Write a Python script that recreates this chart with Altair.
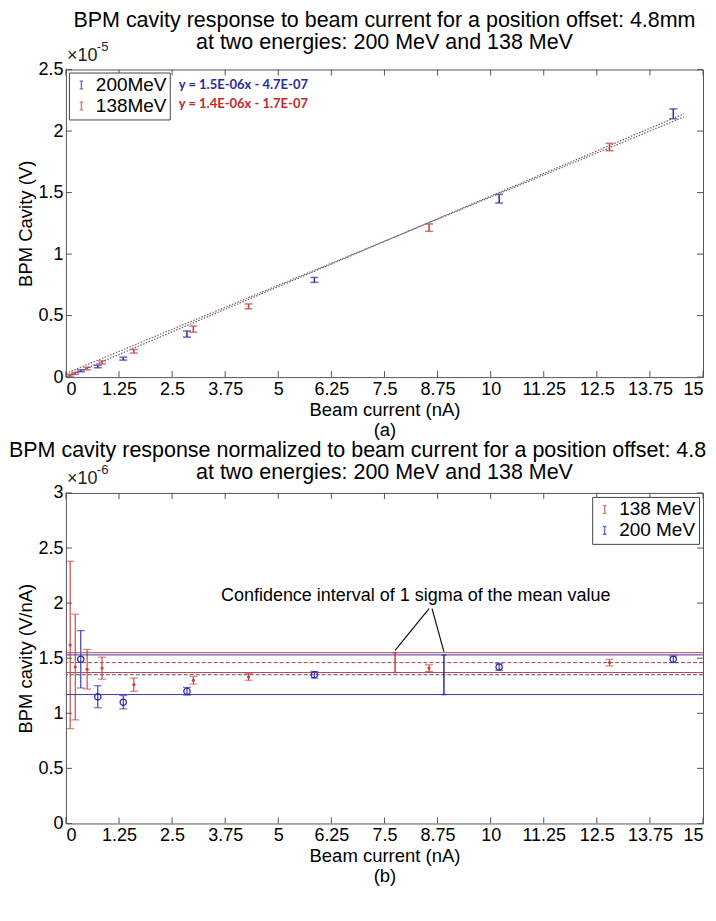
import altair as alt
import pandas as pd

FONT = "Liberation Sans"
BLUE = "#2b2ba8"
RED = "#cc3b3b"
W = 638
HA = 308
HB = 331
TFS = 21.5

# ---------------- panel (a): signal, units of 1e-5 V ----------------
a200_x = [0.35, 0.75, 1.35, 2.85, 5.85, 10.2, 14.3]
a200_y = [0.052, 0.086, 0.15, 0.35, 0.79, 1.45, 2.14]
a200_e = [0.008, 0.01, 0.012, 0.025, 0.02, 0.035, 0.04]
a138_x = [0.1, 0.22, 0.5, 0.85, 1.6, 3.0, 4.3, 8.55, 12.8]
a138_y = [0.016, 0.031, 0.07, 0.12, 0.21, 0.39, 0.575, 1.215, 1.87]
a138_e = [0.008, 0.008, 0.01, 0.012, 0.015, 0.025, 0.02, 0.03, 0.03]
fit_x = [0.0, 14.55]
fit200_y = [0.0, 2.14]
fit138_y = [0.03, 2.115]
eq_200 = "y = 1.5E-06x - 4.7E-07"
eq_138 = "y = 1.4E-06x - 1.7E-07"
title_a = ["BPM cavity response to beam current for a position offset: 4.8mm",
           "at two energies: 200 MeV and 138 MeV"]
xa_ticks = [0, 1.25, 2.5, 3.75, 5, 6.25, 7.5, 8.75, 10, 11.25, 12.5, 13.75, 15]
ya_ticks = [0, 0.5, 1, 1.5, 2, 2.5]

# ---------------- panel (b): normalized, units of 1e-6 V/nA ----------------
b138_x = [0.1, 0.22, 0.5, 0.85, 1.6, 3.0, 4.3, 8.55, 12.8]
b138_y = [1.62, 1.42, 1.4, 1.41, 1.26, 1.3, 1.33, 1.41, 1.46]
b138_e = [0.76, 0.48, 0.18, 0.1, 0.06, 0.035, 0.03, 0.03, 0.03]
b200_x = [0.35, 0.75, 1.35, 2.85, 5.85, 10.2, 14.3]
b200_y = [1.49, 1.15, 1.1, 1.2, 1.35, 1.42, 1.49]
b200_e = [0.26, 0.1, 0.06, 0.035, 0.03, 0.03, 0.03]
band138 = [1.37, 1.46, 1.55]   # lower, mean, upper
band200 = [1.17, 1.35, 1.53]
ci138_x = 7.75
ci200_x = 8.9
anno_text = "Confidence interval of 1 sigma of the mean value"
anno_x, anno_y = 3.65, 2.06
arrow_x = [8.55, 8.62]
arrow_y = [1.95, 1.95]
arrow_x2 = [ci138_x, ci200_x]
arrow_y2 = [1.57, 1.56]
title_b = ["BPM cavity response normalized to beam current for a position offset: 4.8 mm",
           "at two energies: 200 MeV and 138 MeV"]
yb_ticks = [0, 0.5, 1, 1.5, 2, 2.5, 3]

ebar_path = "M0,-1L0,1M-0.45,-1L0.45,-1M-0.45,1L0.45,1"
LBL = "format(datum.value, '~g')"


def series_df(xs, ys, es, name):
    return pd.DataFrame({"x": xs, "y": ys,
                         "lo": [y - e for y, e in zip(ys, es)],
                         "hi": [y + e for y, e in zip(ys, es)],
                         "series": [name] * len(xs)})


def frame_ticks(xvals, yvals, h):
    tx = pd.DataFrame({"tx": xvals})
    ty = pd.DataFrame({"ty": yvals})
    c = "#555555"
    return [
        alt.Chart(tx).mark_rule(color=c).encode(x="tx:Q", y=alt.value(h), y2=alt.value(h - 6)),
        alt.Chart(tx).mark_rule(color=c).encode(x="tx:Q", y=alt.value(0), y2=alt.value(6)),
        alt.Chart(ty).mark_rule(color=c).encode(y="ty:Q", x=alt.value(0), x2=alt.value(6)),
        alt.Chart(ty).mark_rule(color=c).encode(y="ty:Q", x=alt.value(W), x2=alt.value(W - 6)),
    ]


def errbars(df, color, x_enc, y_enc, cap, width):
    rule = alt.Chart(df).mark_rule(strokeWidth=width).encode(
        x=x_enc, y=y_enc, y2="hi:Q", color=color)
    lo = alt.Chart(df).mark_tick(orient="horizontal", size=cap, thickness=width).encode(
        x="x:Q", y="lo:Q", color=color)
    hi = alt.Chart(df).mark_tick(orient="horizontal", size=cap, thickness=width).encode(
        x="x:Q", y="hi:Q", color=color)
    return [rule, lo, hi]


def legend(orient, offset):
    return alt.Legend(title=None, orient=orient, offset=offset, symbolType=ebar_path,
                      symbolSize=60, symbolStrokeWidth=1.3, labelFont=FONT,
                      labelFontSize=19, labelColor="black", strokeColor="#444",
                      fillColor="white", padding=3, rowPadding=1, labelOffset=5,
                      cornerRadius=0)


def text_mark(t, x, y, size, align="left", baseline="middle", **kw):
    return alt.Chart(pd.DataFrame({"t": [t]})).mark_text(
        font=kw.pop("font", FONT), fontSize=size, align=align, baseline=baseline,
        color=kw.pop("color", "black"), **kw
    ).encode(text="t:N", x=alt.value(x), y=alt.value(y))


def axis(values, title):
    return alt.Axis(values=values, labelExpr=LBL, title=title, ticks=False,
                    domain=False, grid=False, labelFont=FONT, labelFontSize=18,
                    labelColor="black", labelPadding=3, titleFont=FONT,
                    titleFontSize=18.5, titleFontWeight="normal", titleColor="black",
                    titleLineHeight=20, titlePadding=2, labelOverlap=False)


# ---------------- build panel (a) ----------------
dfa = pd.concat([series_df(a200_x, a200_y, a200_e, "200MeV"),
                 series_df(a138_x, a138_y, a138_e, "138MeV")])
col_a = alt.Color("series:N", scale=alt.Scale(domain=["200MeV", "138MeV"], range=[BLUE, RED]),
                  legend=legend("top-left", 3))
xa_enc = alt.X("x:Q", scale=alt.Scale(domain=[0, 15], nice=False),
               axis=axis(xa_ticks, ["Beam current (nA)", "(a)"]))
ya_enc = alt.Y("lo:Q", scale=alt.Scale(domain=[0, 2.5], nice=False),
               axis=axis(ya_ticks, "BPM Cavity (V)"))

fit_df = pd.DataFrame({"fx": fit_x, "f200": fit200_y, "f138": fit138_y})
fit1 = alt.Chart(fit_df).mark_line(color="#5a5a8c", strokeDash=[1.5, 1.5], strokeWidth=1.2).encode(
    x="fx:Q", y="f200:Q")
fit2 = alt.Chart(fit_df).mark_line(color="#8c5a5a", strokeDash=[1.5, 1.5], strokeWidth=1.2).encode(
    x="fx:Q", y="f138:Q")

eq1 = text_mark(eq_200, 113, 15, 13, font="Lato", fontWeight="bold", color="#2a2aa0")
eq2 = text_mark(eq_138, 113, 35, 13, font="Lato", fontWeight="bold", color="#c02a2a")
mul_a = text_mark("\u00d710", 1, -5, 18, baseline="bottom", color="#222")
exp_a = text_mark("-5", 31, -16, 13, baseline="bottom", color="#222")
tA1 = text_mark(title_a[0], W / 2, -49, TFS, align="center")
tA2 = text_mark(title_a[1], W / 2, -27, TFS, align="center")

panel_a = alt.layer(
    *errbars(dfa, col_a, xa_enc, ya_enc, 8, 1.5),
    fit1, fit2, eq1, eq2, mul_a, exp_a, tA1, tA2,
    *frame_ticks(xa_ticks, ya_ticks, HA),
).properties(width=W, height=HA)

# ---------------- build panel (b) ----------------
dfb = pd.concat([series_df(b138_x, b138_y, b138_e, "138 MeV"),
                 series_df(b200_x, b200_y, b200_e, "200 MeV")])
col_b = alt.Color("series:N", scale=alt.Scale(domain=["138 MeV", "200 MeV"], range=[RED, BLUE]),
                  legend=legend("top-right", 4))
xb_enc = alt.X("x:Q", scale=alt.Scale(domain=[0, 15], nice=False),
               axis=axis(xa_ticks, ["Beam current (nA)", "(b)"]))
yb_enc = alt.Y("lo:Q", scale=alt.Scale(domain=[0, 3], nice=False),
               axis=axis(yb_ticks, "BPM cavity  (V/nA)"))

lv138 = pd.DataFrame({"lv": band138})
lv200 = pd.DataFrame({"lv": band200})
band_lines = [
    alt.Chart(lv138.iloc[[0, 2]]).mark_rule(color="#c04848", strokeWidth=1).encode(y="lv:Q"),
    alt.Chart(lv138.iloc[[1]]).mark_rule(color="#a04848", strokeWidth=1, strokeDash=[4, 2]).encode(y="lv:Q"),
    alt.Chart(lv200.iloc[[0, 2]]).mark_rule(color="#3a3aa8", strokeWidth=1).encode(y="lv:Q"),
    alt.Chart(lv200.iloc[[1]]).mark_rule(color="#4a4a98", strokeWidth=1, strokeDash=[4, 2]).encode(y="lv:Q"),
]

ci_df = pd.DataFrame({"cx": [ci138_x, ci200_x], "clo": [band138[0], band200[0]],
                      "chi": [band138[2], band200[2]], "series": ["138 MeV", "200 MeV"]})
ci_rule = alt.Chart(ci_df).mark_rule(strokeWidth=1.5).encode(
    x="cx:Q", y="clo:Q", y2="chi:Q", color=col_b)
ci_cap_lo = alt.Chart(ci_df).mark_tick(orient="horizontal", size=5, thickness=1.5).encode(
    x="cx:Q", y="clo:Q", color=col_b)
ci_cap_hi = alt.Chart(ci_df).mark_tick(orient="horizontal", size=5, thickness=1.5).encode(
    x="cx:Q", y="chi:Q", color=col_b)

pts138 = alt.Chart(dfb[dfb.series == "138 MeV"]).mark_point(
    shape="circle", filled=True, size=10, color=RED, opacity=1).encode(x="x:Q", y="y:Q")
pts200 = alt.Chart(dfb[dfb.series == "200 MeV"]).mark_point(
    shape="circle", filled=False, size=40, color=BLUE, strokeWidth=1.3, opacity=1).encode(
    x="x:Q", y="y:Q")

anno = alt.Chart(pd.DataFrame({"t": [anno_text], "ax": [anno_x], "ay": [anno_y]})).mark_text(
    font=FONT, fontSize=18, align="left", baseline="middle", color="black"
).encode(text="t:N", x="ax:Q", y="ay:Q")
arrows = alt.Chart(pd.DataFrame({"x1": arrow_x, "y1": arrow_y, "x2": arrow_x2, "y2": arrow_y2})).mark_rule(
    color="#111", strokeWidth=1.2).encode(x="x1:Q", y="y1:Q", x2="x2:Q", y2="y2:Q")

tB1 = text_mark(title_b[0], -57, -42, TFS, limit=700, ellipsis="\u200b")
tB2 = text_mark(title_b[1], W / 2, -20, TFS, align="center")
mul_b = text_mark("\u00d710", 1, -5, 18, baseline="bottom", color="#222")
exp_b = text_mark("-6", 31, -16, 13, baseline="bottom", color="#222")

panel_b = alt.layer(
    *errbars(dfb, col_b, xb_enc, yb_enc, 8, 1.1),
    *band_lines,
    ci_rule, ci_cap_lo, ci_cap_hi, pts138, pts200, anno, arrows,
    tB1, tB2, mul_b, exp_b,
    *frame_ticks(xa_ticks, yb_ticks, HB),
).properties(width=W, height=HB)

chart = alt.vconcat(panel_a, panel_b, spacing=0).resolve_scale(color="independent").properties(
    padding={"top": 0, "left": 0, "right": 0, "bottom": 0}
).configure_view(stroke="#555555", strokeWidth=1)

chart.save("out.html", embed_options={"renderer": "svg", "actions": False})
